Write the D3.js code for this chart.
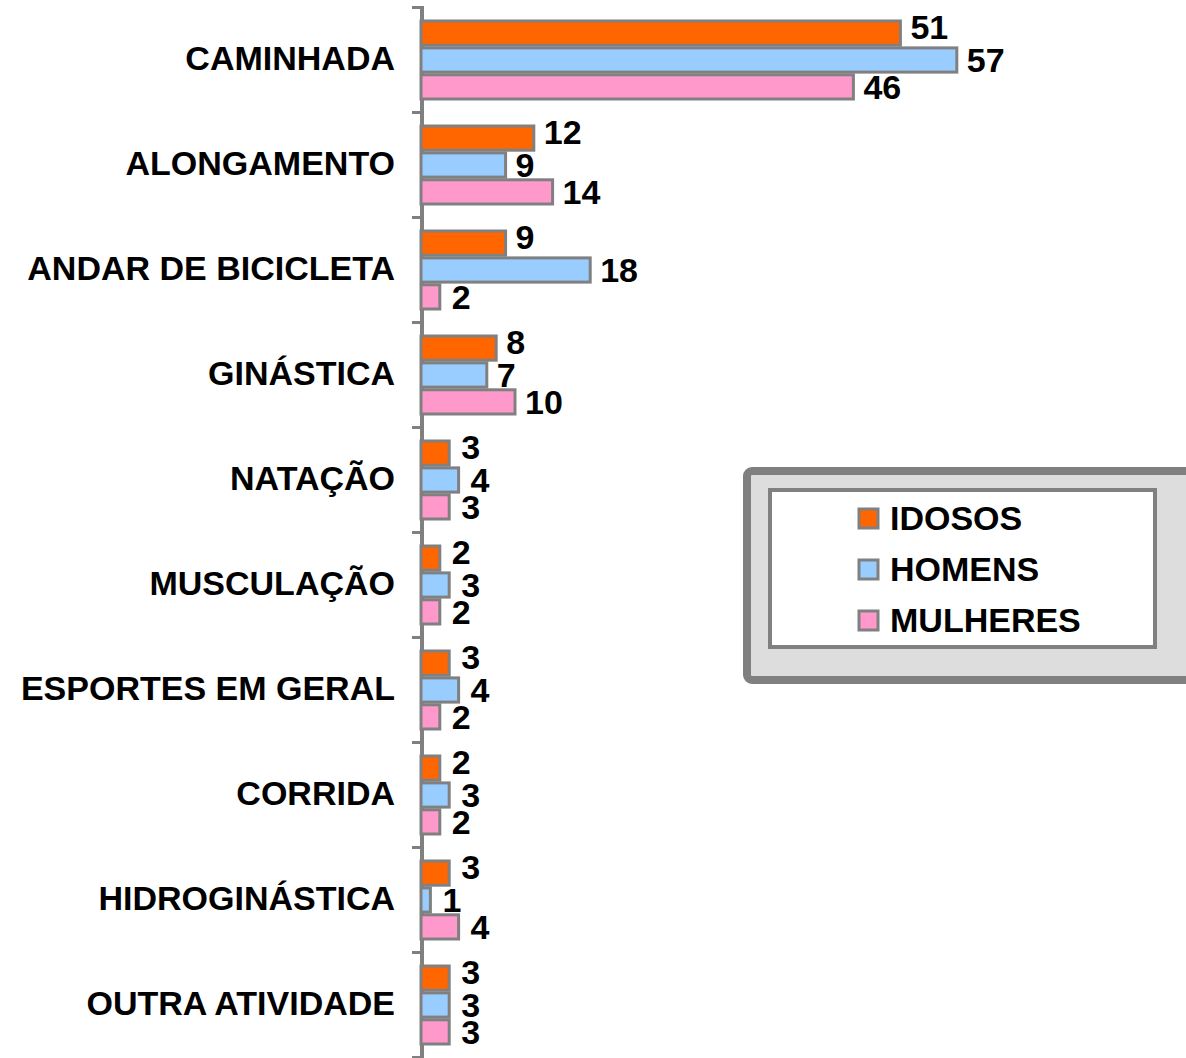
<!DOCTYPE html>
<html>
<head>
<meta charset="utf-8">
<script src="https://cdn.jsdelivr.net/npm/d3@7"></script>
<style>
  body { margin: 0; background: #fff; }
  text { font-family: "Liberation Sans", Arial, sans-serif; font-weight: bold; fill: #000; }
</style>
</head>
<body>
<script>
const categories = ["CAMINHADA", "ALONGAMENTO", "ANDAR DE BICICLETA", "GINÁSTICA", "NATAÇÃO",
    "MUSCULAÇÃO", "ESPORTES EM GERAL", "CORRIDA", "HIDROGINÁSTICA", "OUTRA ATIVIDADE"];
const seriesNames = ["IDOSOS", "HOMENS", "MULHERES"];
const idosos   = [51, 12, 9, 8, 3, 2, 3, 2, 3, 3];
const homens   = [57, 9, 18, 7, 4, 3, 4, 3, 1, 3];
const mulheres = [46, 14, 2, 10, 3, 2, 2, 2, 4, 3];
const colors = ["#FF6600", "#99CCFF", "#FF99CC"];

const W = 1186, H = 1058;
const values = [idosos, homens, mulheres];

let svg = d3.select("body")
    .append("svg")
    .attr("width", W)
    .attr("height", H);

// scales
let yScale = d3.scaleBand()
    .domain(categories)
    .range([7, 1057]);

let ySub = d3.scaleBand()
    .domain(seriesNames)
    .range([14, 92])
    .paddingInner(0.1);

let xScale = d3.scaleLinear()
    .domain([0, 60])
    .range([421, 421 + 60 * 9.4]);

// axis with ticks at the band edges
let tickScale = d3.scaleLinear()
    .domain([0, categories.length])
    .range([7, 1057]);

let axis = svg.append("g")
    .attr("transform", "translate(422,0)")
    .call(d3.axisLeft(tickScale)
        .tickValues(d3.range(categories.length + 1))
        .tickSize(10)
        .tickFormat(""));
axis.select(".domain").remove();
axis.selectAll(".tick line").attr("stroke", "#808080").attr("stroke-width", 3);
svg.append("line")
    .attr("x1", 422).attr("x2", 422)
    .attr("y1", 6).attr("y2", H)
    .attr("stroke", "#808080").attr("stroke-width", 4);

// category labels
svg.append("g").selectAll("text")
    .data(categories)
    .enter()
    .append("text")
    .attr("x", 395)
    .attr("y", d => yScale(d) + yScale.bandwidth() / 2 + 10)
    .attr("text-anchor", "end")
    .style("font-size", "34px")
    .text(d => d);

// bars
let rows = [];
categories.forEach((c, i) => {
    seriesNames.forEach((s, j) => {
        rows.push({cat: c, series: s, idx: j, value: values[j][i]});
    });
});

svg.append("g").selectAll("rect")
    .data(rows)
    .enter()
    .append("rect")
    .attr("x", xScale(0))
    .attr("y", d => yScale(d.cat) + ySub(d.series))
    .attr("width", d => xScale(d.value) - xScale(0))
    .attr("height", ySub.bandwidth())
    .attr("fill", d => colors[d.idx])
    .attr("stroke", "#808080")
    .attr("stroke-width", 3);

// value labels
const labelShift = [-6, 0, 0];
svg.append("g").selectAll("text")
    .data(rows)
    .enter()
    .append("text")
    .attr("x", d => xScale(d.value) + (d.value < 5 ? 12 : 10))
    .attr("y", d => yScale(d.cat) + ySub(d.series) + ySub.bandwidth() / 2 + 12 + labelShift[d.idx])
    .style("font-size", "34px")
    .text(d => d.value);

// legend
let legend = svg.append("g");
legend.append("rect")
    .attr("x", 747).attr("y", 471)
    .attr("width", 470).attr("height", 209)
    .attr("rx", 5)
    .attr("fill", "#DDDDDD")
    .attr("stroke", "#808080")
    .attr("stroke-width", 8);
legend.append("rect")
    .attr("x", 770).attr("y", 490)
    .attr("width", 385).attr("height", 157)
    .attr("fill", "#fff")
    .attr("stroke", "#808080")
    .attr("stroke-width", 4);

let item = legend.selectAll(".item")
    .data(seriesNames)
    .enter()
    .append("g")
    .attr("class", "item")
    .attr("transform", (d, i) => "translate(0," + (518 + i * 51) + ")");
item.append("rect")
    .attr("x", 859).attr("y", -9)
    .attr("width", 19).attr("height", 19)
    .attr("fill", (d, i) => colors[i])
    .attr("stroke", "#808080")
    .attr("stroke-width", 3);
item.append("text")
    .attr("x", 890)
    .attr("y", 12)
    .style("font-size", "34px")
    .text(d => d);
</script>
</body>
</html>
